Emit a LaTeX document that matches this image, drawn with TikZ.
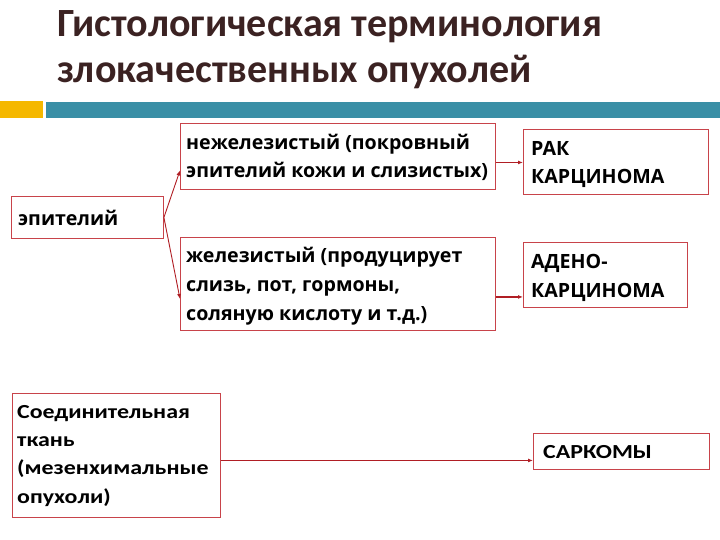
\documentclass[tikz,border=0pt]{standalone}
\usepackage{fontspec}
\setmainfont{Carlito}
\newfontfamily\topfont{Open Sans}
\newfontfamily\botfont[FakeStretch=1.2]{Carlito}
\usetikzlibrary{arrows.meta}
\definecolor{titlec}{HTML}{3B2222}
\definecolor{tealbar}{HTML}{3A8FA6}
\definecolor{orangesq}{HTML}{F5B800}
\definecolor{boxred}{HTML}{C8434A}
\definecolor{arrred}{HTML}{B01E24}
\tikzset{
  box/.style={draw=boxred, line width=0.9bp, anchor=north west, inner sep=0pt},
  txt/.style={anchor=base west, inner sep=0pt, align=left, font=\topfont\fontsize{19.7}{29}\selectfont\bfseries},
  btxt/.style={anchor=base west, inner sep=0pt, align=left, font=\botfont\fontsize{20}{28.3}\selectfont\bfseries},
  conn/.style={draw=arrred, line width=1.6bp, -{Latex[length=5bp,width=4bp]}},
  ttl/.style={anchor=base west, inner sep=0pt, text=titlec, font=\fontsize{40.2}{46}\selectfont\bfseries}
}
\begin{document}
\begin{tikzpicture}[x=1bp,y=-1bp]
\useasboundingbox (0,0) rectangle (720,540);
\fill[white] (0,0) rectangle (720,540);
% title
\node[ttl] (t1) at (57,37) {Гистологическая терминология};
\node[ttl] (t2) at (57,83) {злокачественных опухолей};
% bars
\fill[orangesq] (0,101) rectangle (43,118);
\fill[tealbar] (46,102) rectangle (720,118);
% boxes
\node[box, minimum width=315bp, minimum height=66bp] (b1) at (180,123) {};
\node[box, minimum width=315bp, minimum height=93bp] (b2) at (180,237) {};
\node[box, minimum width=152bp, minimum height=42bp] (ep) at (11,196) {};
\node[box, minimum width=185bp, minimum height=65bp] (rak) at (523,129) {};
\node[box, minimum width=164bp, minimum height=65bp] (ad) at (523,242) {};
\node[box, minimum width=208bp, minimum height=124bp] (ct) at (12,393) {};
\node[box, minimum width=176bp, minimum height=36bp] (sar) at (533,433) {};
% texts
\node[txt] (b1t) at (186,178) {нежелезистый (покровный\\эпителий кожи и слизистых)};
\node[txt] (b2t) at (186,320) {железистый (продуцирует\\слизь, пот, гормоны,\\соляную кислоту и т.д.)};
\node[txt] (ept) at (18,226) {эпителий};
\node[txt] (rakt) at (531,184) {РАК\\КАРЦИНОМА};
\node[txt] (adt) at (531,297) {АДЕНО-\\КАРЦИНОМА};
\node[btxt] (ctt) at (17,503) {Соединительная\\ткань\\(мезенхимальные\\опухоли)};
\node[btxt] (sart) at (543,458) {САРКОМЫ};
% connectors
\draw[conn, line width=0.9bp] (ep.east) -- ([yshift=-14bp]b1.west);
\draw[conn, line width=0.9bp] (ep.east) -- ([yshift=-15bp]b2.west);
\draw[conn] ([yshift=-6bp]b1.east) -- ([yshift=-6bp]b1.east -| rak.west);
\draw[conn] ([yshift=-13bp]b2.east) -- ([yshift=-13bp]b2.east -| ad.west);
\draw[conn] ([yshift=-5bp]ct.east) -- ([yshift=-5bp]ct.east -| sar.west);
\end{tikzpicture}
\end{document}
